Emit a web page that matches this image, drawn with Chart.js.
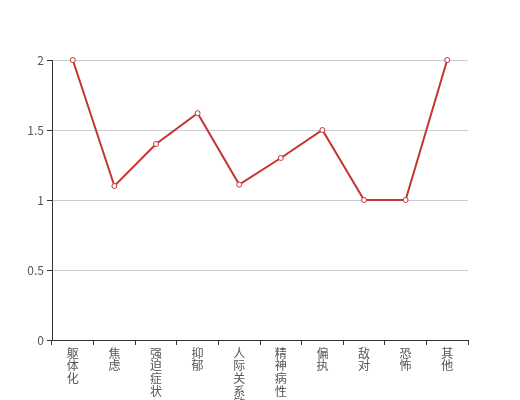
<!DOCTYPE html>
<html>
<head>
<meta charset="utf-8">
<script src="https://cdn.jsdelivr.net/npm/chart.js@4/dist/chart.umd.min.js"></script>
<style>
html,body{margin:0;padding:0;background:#fff;}
#wrap{width:520px;height:400px;position:relative;}
</style>
</head>
<body>
<div id="wrap"><canvas id="c" width="520" height="400"></canvas></div>
<script>
const categories = ['躯体化','焦虑','强迫症状','抑郁','人际关系敏感','精神病性','偏执','敌对','恐怖','其他'];
const values = [2, 1.1, 1.4, 1.62, 1.11, 1.3, 1.5, 1, 1, 2];
const yTicks = [0, 0.5, 1, 1.5, 2];

const labels = categories.map(s => s.split(''));
const font = {family: '"Noto Sans CJK SC", "Noto Sans", sans-serif', size: 12, lineHeight: 1.05};

new Chart(document.getElementById('c'), {
  type: 'line',
  data: {
    labels: labels,
    datasets: [{
      data: values,
      borderColor: '#c23531',
      backgroundColor: '#ffffff',
      borderWidth: 2,
      pointRadius: 2.5,
      pointBorderWidth: 1,
      pointBorderColor: '#c23531',
      pointBackgroundColor: '#ffffff',
      tension: 0,
      fill: false,
      clip: false
    }]
  },
  options: {
    responsive: false,
    animation: false,
    devicePixelRatio: 1,
    layout: {padding: {left: 0, right: 52, top: 60, bottom: 0}},
    plugins: {legend: {display: false}, tooltip: {enabled: false}},
    scales: {
      x: {
        offset: true,
        grid: {display: true, offset: true, drawOnChartArea: false, drawTicks: true, tickLength: 5, color: '#333', tickColor: '#333'},
        border: {display: true, color: '#333', width: 1},
        ticks: {autoSkip: false, maxRotation: 0, minRotation: 0, color: '#555', font: font, padding: 2},
        afterFit: s => { s.height = 60; }
      },
      y: {
        min: 0, max: 2,
        afterBuildTicks: s => { s.ticks = yTicks.map(v => ({value: v})); },
        grid: {color: '#ccc', tickColor: '#333', tickLength: 5, drawTicks: true},
        border: {display: true, color: '#333', width: 1},
        ticks: {color: '#555', font: {family: font.family, size: 12}, padding: 3, callback: v => String(v)},
        afterFit: s => { s.width = 52; }
      }
    }
  }
});
</script>
</body>
</html>
